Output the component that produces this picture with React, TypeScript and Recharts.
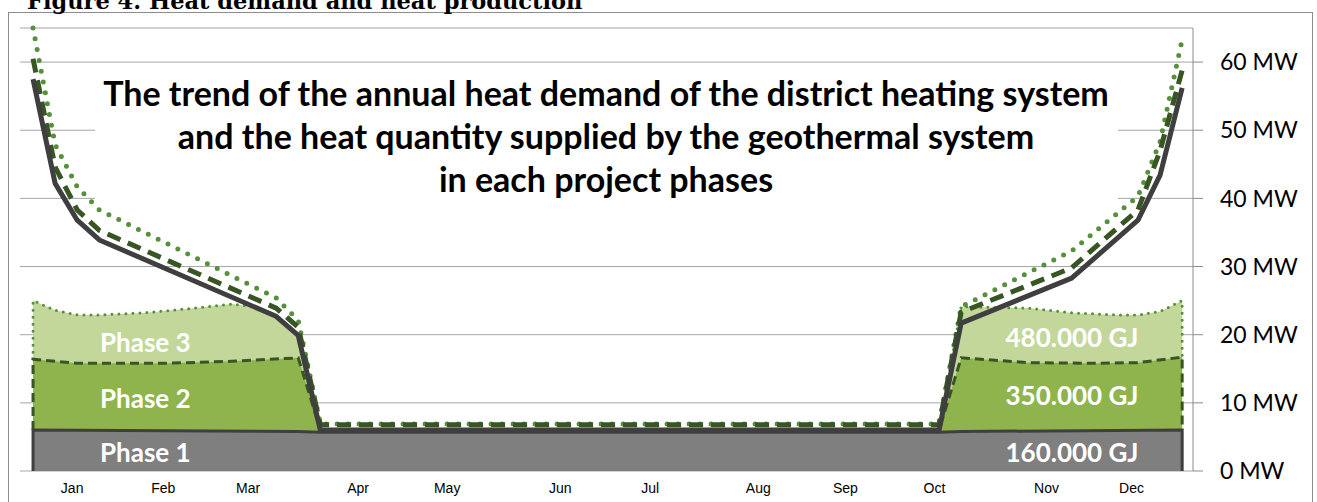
import { ComposedChart, Area, Line, XAxis, YAxis, CartesianGrid } from "recharts";

const monthLabels = ["Jan", "Feb", "Mar", "Apr", "May", "Jun", "Jul", "Aug", "Sep", "Oct", "Nov", "Dec"];
// where Excel put each month label, in weeks of the year
const monthTickWeeks = [1.77, 5.89, 9.73, 14.71, 18.74, 23.86, 27.93, 32.82, 36.76, 40.79, 45.86, 49.71];
const yTicks = [0, 10, 20, 30, 40, 50, 60];

// heat demand (MW) per project phase, read at the curve's break points
const demandWeeks = [0, 1, 2, 3, 11, 12, 13, 41, 42, 47, 50, 51, 52];
const demandPhase1 = [57.5, 42.2, 36.8, 33.9, 22.7, 19.9, 6.0, 6.0, 21.7, 28.3, 36.8, 43.4, 56.2];
const demandPhase2 = [60.5, 44.6, 38.3, 35.3, 23.9, 21.1, 6.8, 6.8, 23.3, 29.8, 38.3, 47.0, 58.8];
const demandPhase3 = [65.0, 47.9, 41.7, 38.3, 25.4, 22.1, 6.9, 6.9, 24.1, 32.3, 40.3, 48.3, 63.3];

// geothermal supply (MW) per phase, top of each filled area
const phase3Weeks = [0, 0, 1, 2, 3, 5, 7, 9, 10, 11, 12, 13, 41, 42, 45, 47, 49, 50, 51, 52, 52];
const phase3Supply = [16.4, 25.0, 23.6, 22.9, 22.9, 23.2, 23.8, 24.5, 24.1, 22.7, 19.9, 6.0, 6.0, 24.1, 23.9, 23.2, 22.9, 22.9, 23.4, 25.0, 16.7];
const phase2Weeks = [0, 0, 2, 6, 9, 12, 13, 41, 42, 45, 48, 50, 52, 52];
const phase2Supply = [6.0, 16.4, 15.8, 15.8, 16.1, 16.6, 6.0, 6.0, 16.6, 15.9, 15.8, 15.9, 16.7, 6.0];
const phase1Weeks = [0, 0, 12, 13, 41, 42, 52, 52];
const phase1Supply = [0, 6.0, 5.8, 5.7, 5.7, 5.8, 6.0, 0];

const phaseNames = ["Phase 3", "Phase 2", "Phase 1"];
const phaseEnergy = ["480.000 GJ", "350.000 GJ", "160.000 GJ"];

const toPoints = (weeks: number[], values: number[]) => weeks.map((w, i) => ({ w, v: values[i] }));

const DARK = "#3f3f3f";
const DASH_GREEN = "#375623";
const DOT_GREEN = "#56903a";

const App = () => {
  return (
    <div style={{ position: "absolute", left: 0, top: 0, width: 1317, height: 502, background: "#fff", overflow: "hidden" }}>
      <ComposedChart width={1317} height={502} margin={{ top: 28, right: 0, bottom: 0, left: 20 }}>
        <CartesianGrid vertical={false} stroke="#a6a6a6" />
        <XAxis
          type="number"
          dataKey="w"
          domain={[-0.59, 52.49]}
          allowDataOverflow
          ticks={monthTickWeeks}
          interval={0}
          tickFormatter={(_v: number, i: number) => monthLabels[i]}
          axisLine={false}
          tickLine={false}
          tickSize={0}
          tickMargin={12}
          height={31}
          tick={{ fontFamily: "Liberation Sans", fontSize: 14, fill: "#000" }}
        />
        <YAxis
          orientation="right"
          domain={[0, 65]}
          ticks={yTicks}
          interval={0}
          width={124}
          tickFormatter={(v: number) => `${v} MW`}
          axisLine={{ stroke: "#8c8c8c" }}
          tickLine={{ stroke: "#8c8c8c" }}
          tickSize={10}
          tickMargin={17}
          tick={{ fontFamily: "Lato", fontSize: 23, fill: "#000" }}
        />
        <Area
          data={toPoints(phase3Weeks, phase3Supply)}
          dataKey="v"
          type="linear"
          fill="#c4d79b"
          fillOpacity={1}
          stroke={DOT_GREEN}
          strokeWidth={3}
          strokeDasharray="0 7"
          strokeLinecap="round"
          dot={false}
          activeDot={false}
          isAnimationActive={false}
        />
        <Area
          data={toPoints(phase2Weeks, phase2Supply)}
          dataKey="v"
          type="linear"
          fill="#8fb44e"
          fillOpacity={1}
          stroke={DASH_GREEN}
          strokeWidth={3}
          strokeDasharray="9 5"
          dot={false}
          activeDot={false}
          isAnimationActive={false}
        />
        <Area
          data={toPoints(phase1Weeks, phase1Supply)}
          dataKey="v"
          type="linear"
          fill="#7f7f7f"
          fillOpacity={1}
          stroke={DARK}
          strokeWidth={3}
          dot={false}
          activeDot={false}
          isAnimationActive={false}
        />
        <Line
          data={toPoints(demandWeeks, demandPhase3)}
          dataKey="v"
          type="linear"
          stroke={DOT_GREEN}
          strokeWidth={5}
          strokeDasharray="0 11"
          strokeLinecap="round"
          dot={false}
          activeDot={false}
          isAnimationActive={false}
        />
        <Line
          data={toPoints(demandWeeks, demandPhase2)}
          dataKey="v"
          type="linear"
          stroke={DASH_GREEN}
          strokeWidth={5}
          strokeDasharray="14 8"
          dot={false}
          activeDot={false}
          isAnimationActive={false}
        />
        <Line
          data={toPoints(demandWeeks, demandPhase1)}
          dataKey="v"
          type="linear"
          stroke={DARK}
          strokeWidth={5}
          strokeLinejoin="round"
          dot={false}
          activeDot={false}
          isAnimationActive={false}
        />
      </ComposedChart>

      <svg width={1317} height={502} style={{ position: "absolute", left: 0, top: 0, pointerEvents: "none" }}>
        <rect x={8.5} y={12.5} width={1304} height={500} fill="none" stroke="#8c8c8c" />
        <text x={27} y={9} fontFamily="DejaVu Serif" fontWeight="bold" fontSize={22.5} fill="#000">
          Figure 4. Heat demand and heat production
        </text>
        <rect x={95} y={65} width={1023} height={142} fill="#fff" />
        <g fontFamily="Lato" fontWeight="bold" fontSize={34} fill="#000" textAnchor="middle">
          <text x={606} y={106}>The trend of the annual heat demand of the district heating system</text>
          <text x={606} y={149}>and the heat quantity supplied by the geothermal system</text>
          <text x={606} y={192}>in each project phases</text>
        </g>
        <g fontFamily="Lato" fontWeight="bold" fontSize={26} fill="#fff">
          {phaseNames.map((name, i) => (
            <text key={name} x={100} y={[352, 408, 462][i]}>
              {name}
            </text>
          ))}
          {phaseEnergy.map((label, i) => (
            <text key={label} x={1072} y={[347, 405, 462][i]} textAnchor="middle">
              {label}
            </text>
          ))}
        </g>
      </svg>
    </div>
  );
};

export default App;
